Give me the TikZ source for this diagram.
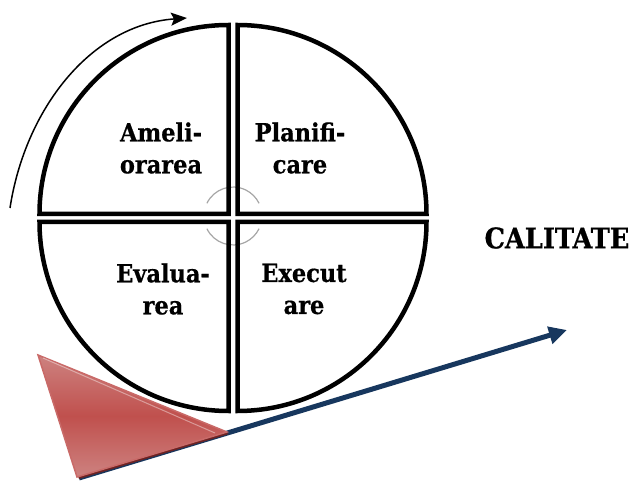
\documentclass[tikz,border=0pt]{standalone}
\usepackage{fontspec}
\setmainfont{DejaVu Serif Condensed}
\usetikzlibrary{arrows.meta,calc}
\definecolor{navy}{RGB}{23,55,94}
\definecolor{tred}{RGB}{192,80,77}
\definecolor{tredlight}{RGB}{205,130,128}
\definecolor{tredshadow}{RGB}{110,35,35}
\tikzset{
  quad/.style={draw=black,line width=4.5pt},
  lbl/.style={align=center,font=\fontsize{25}{32}\selectfont\bfseries\addfontfeatures{FakeBold=0.6},inner sep=0pt},
  cyc/.style={draw=black!35,line width=1.2pt},
}
\begin{document}
\begin{tikzpicture}[x=1pt,y=1pt]
\useasboundingbox (0,0) rectangle (633,-481);
% small gray cycle arcs
\draw[cyc] (206.9,-203.3) arc (154:26:29);
\draw[cyc] (206.9,-228.7) arc (206:334:29);
% quadrants
\draw[quad] (228.5,-214) -- ++(-189,0) arc (180:90:189) -- cycle;
\draw[quad] (237.5,-214) -- ++(0,189) arc (90:0:189) -- cycle;
\draw[quad] (228.5,-222) -- ++(-189,0) arc (180:270:189) -- cycle;
\draw[quad] (237.5,-222) -- ++(189,0) arc (0:-90:189) -- cycle;
% labels
\node[lbl] (ame) at (161,-148) {Ameli-\\orarea};
\node[lbl] (pla) at (300,-148) {Planifi-\\care};
\node[lbl] (eva) at (163,-289) {Evalua-\\rea};
\node[lbl] (exe) at (304,-289) {Execut\\are};
\node[font=\fontsize{28.5}{32}\selectfont\bfseries\addfontfeatures{FakeBold=0.6},inner sep=0pt] (cal) at (557,-238) {CALITATE};
% top-left curved arrow
\coordinate (cs) at (10,-208);
\coordinate (ce) at (187,-18);
\draw[line width=1.5pt,-{Stealth[length=16pt,width=13pt,inset=3pt]}] (cs) .. controls (25,-110) and (90,-25) .. (ce);
% blue arrow
\coordinate (bs) at (79,-478);
\coordinate (be) at (567,-330);
\draw[navy,line width=5pt,-{Triangle[length=18pt,width=17pt]}] (bs) -- (be);
% triangle
\coordinate (t1) at (38,-355);
\coordinate (t2) at (77,-477);
\coordinate (t3) at (227,-432);
\fill[tredshadow] ([shift={(2,-2)}]t1) -- ([shift={(2,-2)}]t2) -- ([shift={(2,-2)}]t3) -- cycle;
\shade[top color=tredlight,bottom color=tredlight,middle color=tred,draw=tred!85!white,line width=1.5pt] (t1) -- (t2) -- (t3) -- cycle;
\draw[white,opacity=0.4,line width=1pt] ($(t1)+(5,-3)$) -- ($(t3)+(-12,-1)$);
\end{tikzpicture}
\end{document}
